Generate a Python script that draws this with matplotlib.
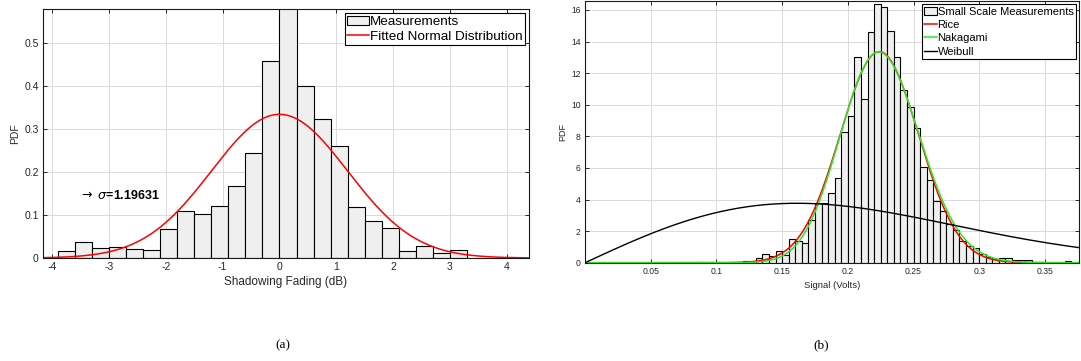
import numpy as np
import matplotlib
matplotlib.use("Agg")
from matplotlib import pyplot as plt
from math import lgamma

plt.rcParams['font.family'] = ['Liberation Sans', 'DejaVu Sans']
plt.rcParams['axes.unicode_minus'] = False
plt.rcParams['mathtext.fontset'] = 'dejavusans'

# (a) shadowing fading histogram, bins of 0.3 dB starting at -3.9
shadow_bin_start = -3.9
shadow_bin_width = 0.3
shadow_pdf = [0.016, 0.036, 0.024, 0.026, 0.022, 0.019, 0.068, 0.108, 0.102, 0.121,
              0.166, 0.243, 0.458, 0.600, 0.400, 0.322, 0.259, 0.119, 0.085, 0.070,
              0.0155, 0.027, 0.012, 0.019]
normal_mu = 0.0
normal_sigma = 1.19631

# (b) small scale signal histogram, bins of 0.005 V starting at 0.12
signal_bin_start = 0.12
signal_bin_width = 0.005
signal_pdf = [0.10, 0.12, 0.27, 0.53, 0.44, 0.74, 0.50, 1.50, 1.39, 1.27,
              2.68, 3.76, 3.76, 4.43, 5.34, 8.29, 9.28, 13.04, 10.38, 14.58,
              16.35, 16.16, 14.66, 13.04, 10.93, 9.83, 8.54, 6.08, 5.21, 3.88,
              3.29, 2.45, 2.07, 1.39, 1.08, 0.91, 0.55, 0.38, 0.25, 0.30,
              0.30, 0.17, 0.17, 0.17, 0.0, 0.05]
signal_outlier_bins = [0.085, 0.365]
signal_outlier_pdf = [0.05, 0.08]

rice_nu, rice_sigma = 0.222, 0.030
naka_m, naka_omega = 14.4, 0.0518
weib_scale, weib_shape = 0.228, 2.0

hist_face = '#efefef'
grid_col = '#dadada'
text_col = '#262626'


def style_axes(ax, fs):
    ax.grid(True, color=grid_col, linewidth=0.7)
    ax.set_axisbelow(True)
    ax.tick_params(direction='in', top=True, right=True, length=3, width=0.7,
                   labelsize=fs, colors=text_col, pad=3)
    for s in ax.spines.values():
        s.set_linewidth(0.8)
        s.set_color('#1a1a1a')


fig = plt.figure(figsize=(10.81, 3.61), dpi=100)

# ---------------- (a) ----------------
ax1 = fig.add_axes([0.0398, 0.2853, 0.4496, 0.6898])
n1 = len(shadow_pdf)
left1 = shadow_bin_start + shadow_bin_width * np.arange(n1)
bars1 = ax1.bar(left1, shadow_pdf, width=shadow_bin_width, align='edge', color=hist_face,
                edgecolor='black', linewidth=0.8)
xs = np.linspace(-4.2, 4.4, 600)
line1, = ax1.plot(xs, np.exp(-0.5 * ((xs - normal_mu) / normal_sigma) ** 2) / (normal_sigma * np.sqrt(2 * np.pi)),
                  color='red', linewidth=1.1)
ax1.set_xlim(-4.16, 4.39)
ax1.set_ylim(0, 0.578)
ax1.set_xticks(range(-4, 5))
ax1.set_yticks([0, 0.1, 0.2, 0.3, 0.4, 0.5])
ax1.xaxis.set_major_formatter(matplotlib.ticker.FormatStrFormatter('%g'))
ax1.yaxis.set_major_formatter(matplotlib.ticker.FormatStrFormatter('%g'))
style_axes(ax1, 7.5)
ax1.set_xlabel('Shadowing Fading (dB)', fontsize=8.5, color=text_col, labelpad=3)
ax1.set_ylabel('PDF', fontsize=7.5, color=text_col, labelpad=3)
ax1.text(-3.52, 0.146, r'$\rightarrow$ $\sigma$=1.19631', fontsize=9, fontweight='bold',
         va='center', ha='left')
leg1 = ax1.legend([bars1, line1], ['Measurements', 'Fitted Normal Distribution'],
                  loc='upper right', fontsize=9.7, frameon=True, fancybox=False,
                  edgecolor='black', framealpha=1, handlelength=1.6, handletextpad=0.05,
                  borderpad=0.2, labelspacing=0.15, borderaxespad=0.3)
leg1.get_frame().set_linewidth(0.8)

# ---------------- (b) ----------------
ax2 = fig.add_axes([0.5412, 0.2723, 0.4570, 0.7250])
n2 = len(signal_pdf)
left2 = signal_bin_start + signal_bin_width * np.arange(n2)
bars2 = ax2.bar(np.concatenate([left2, signal_outlier_bins]), signal_pdf + signal_outlier_pdf,
                width=signal_bin_width, align='edge', color=hist_face, edgecolor='black',
                linewidth=0.8)
v = np.linspace(0.0005, 0.38, 800)
rice = v / rice_sigma ** 2 * np.exp(-(v ** 2 + rice_nu ** 2) / (2 * rice_sigma ** 2)) \
    * np.i0(v * rice_nu / rice_sigma ** 2)
naka = np.exp(np.log(2) + naka_m * np.log(naka_m) - lgamma(naka_m) - naka_m * np.log(naka_omega)
              + (2 * naka_m - 1) * np.log(v) - naka_m * v ** 2 / naka_omega)
vw = np.linspace(0, 0.38, 800)
weib = (weib_shape / weib_scale) * (vw / weib_scale) ** (weib_shape - 1) \
    * np.exp(-(vw / weib_scale) ** weib_shape)
l_rice, = ax2.plot(v, rice, color='red', linewidth=1.1)
l_naka, = ax2.plot(v, naka, color='#22ee22', linewidth=1.1)
l_weib, = ax2.plot(vw, weib, color='black', linewidth=1.0)
ax2.set_xlim(0, 0.376)
ax2.set_ylim(0, 16.57)
ax2.set_xticks([0.05, 0.1, 0.15, 0.2, 0.25, 0.3, 0.35])
ax2.set_yticks(range(0, 17, 2))
ax2.xaxis.set_major_formatter(matplotlib.ticker.FormatStrFormatter('%g'))
style_axes(ax2, 6.2)
ax2.set_xlabel('Signal (Volts)', fontsize=6.8, color=text_col, labelpad=4)
ax2.set_ylabel('PDF', fontsize=6.5, color=text_col, labelpad=3)
leg2 = ax2.legend([bars2, l_rice, l_naka, l_weib],
                  ['Small Scale Measurements', 'Rice', 'Nakagami', 'Weibull'],
                  loc='upper right', fontsize=8, frameon=True, fancybox=False,
                  edgecolor='black', framealpha=1, handlelength=1.2, handletextpad=0.05,
                  borderpad=0.2, labelspacing=0.3, borderaxespad=0.3)
leg2.get_frame().set_linewidth(0.8)

fig.text(283 / 1081, 1 - 345 / 361, '(a)', fontsize=9.5, family='Liberation Serif',
         ha='center', va='center')
fig.text(821 / 1081, 1 - 345 / 361, '(b)', fontsize=9.5, family='Liberation Serif',
         ha='center', va='center')

fig.savefig('out.png', dpi=100)
